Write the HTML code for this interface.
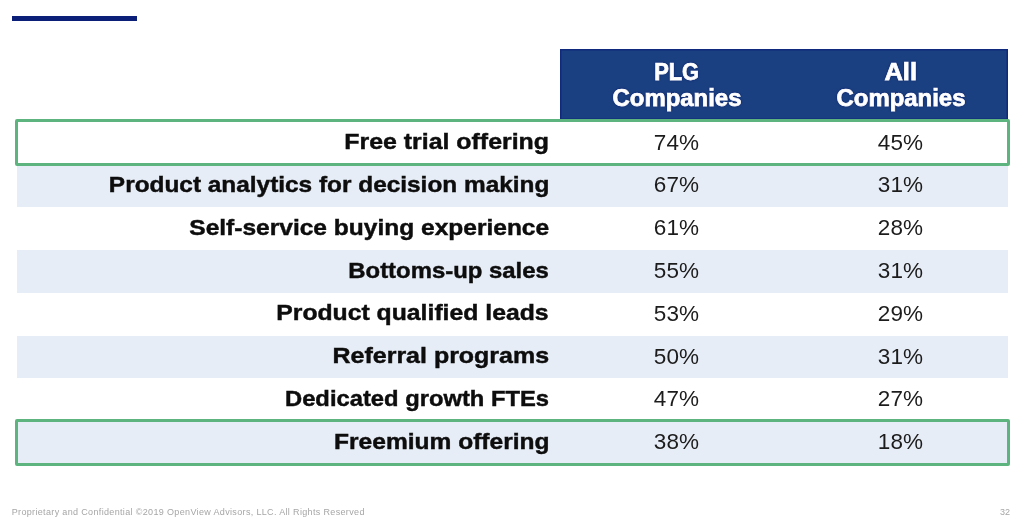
<!DOCTYPE html>
<html lang="en">
<head>
<meta charset="utf-8">
<title>PLG vs All Companies</title>
<style>
html,body{margin:0;padding:0;}
body{width:1024px;height:523px;position:relative;overflow:hidden;background:#fff;font-family:"Liberation Sans",sans-serif;}
.abs{position:absolute;}
#topline{left:12.2px;top:16.3px;width:125px;height:4.8px;background:#0b1f78;}
#head{left:560px;top:49.3px;width:448px;height:71px;background:#1b4081;box-shadow:inset 0 0 0 1.5px #0f2a7c;}
.hl{position:absolute;width:224px;text-align:center;color:#fff;font-weight:bold;font-size:23px;line-height:26.5px;-webkit-text-stroke:0.75px #fff;text-shadow:0 0 1.5px #081a6a,0 0 2.5px rgba(8,26,106,0.8);white-space:nowrap;}
.hl span{display:inline-block;transform-origin:center center;}
.row{position:absolute;left:16.5px;width:991.5px;height:42.8px;}
.stripe{background:#e7edf6;}
.lab{position:absolute;right:459px;top:-0.5px;height:42.8px;line-height:42.8px;font-weight:bold;font-size:22.5px;color:#0d0d0d;-webkit-text-stroke:0.45px #0d0d0d;white-space:nowrap;transform-origin:right center;}
.v{position:absolute;top:0;height:42.8px;line-height:42.8px;width:120px;text-align:center;font-size:22.5px;color:#1c1c1c;white-space:nowrap;letter-spacing:0.1px;}
.v1{left:600px;}
.v2{left:824px;}
.gbox{position:absolute;left:15px;width:995px;box-sizing:border-box;border:3.3px solid #5db47e;border-radius:2px;}
#foot{left:11.7px;top:505.7px;font-size:9px;line-height:12px;color:#a6a6a6;letter-spacing:0.345px;white-space:nowrap;}
#pg{left:1000px;top:505.7px;font-size:9px;line-height:12px;color:#a6a6a6;white-space:nowrap;}
</style>
</head>
<body>
<div id="topline" class="abs"></div>

<div id="head" class="abs"></div>
<div class="hl" style="left:564.5px;top:58.7px;"><span style="transform:scaleX(0.95)">PLG</span><br><span style="transform:scaleX(1.04)">Companies</span></div>
<div class="hl" style="left:788.5px;top:58.7px;"><span style="transform:scaleX(1.11)">All</span><br><span style="transform:scaleX(1.04)">Companies</span></div>

<div class="row" style="top:121.5px;"><div class="lab" style="transform:scaleX(1.1065)">Free trial offering</div><div class="v v1">74%</div><div class="v v2">45%</div></div>
<div class="row stripe" style="top:164.3px;"><div class="lab" style="transform:scaleX(1.084)">Product analytics for decision making</div><div class="v v1">67%</div><div class="v v2">31%</div></div>
<div class="row" style="top:207.1px;"><div class="lab" style="transform:scaleX(1.090)">Self-service buying experience</div><div class="v v1">61%</div><div class="v v2">28%</div></div>
<div class="row stripe" style="top:250.2px;"><div class="lab" style="transform:scaleX(1.062)">Bottoms-up sales</div><div class="v v1">55%</div><div class="v v2">31%</div></div>
<div class="row" style="top:292.7px;"><div class="lab" style="transform:scaleX(1.100)">Product qualified leads</div><div class="v v1">53%</div><div class="v v2">29%</div></div>
<div class="row stripe" style="top:335.5px;"><div class="lab" style="transform:scaleX(1.110)">Referral programs</div><div class="v v1">50%</div><div class="v v2">31%</div></div>
<div class="row" style="top:378.3px;"><div class="lab" style="transform:scaleX(1.056)">Dedicated growth FTEs</div><div class="v v1">47%</div><div class="v v2">27%</div></div>
<div class="row stripe" style="top:421.1px;"><div class="lab" style="transform:translateX(1px) scaleX(1.091)">Freemium offering</div><div class="v v1">38%</div><div class="v v2">18%</div></div>

<div class="gbox" style="top:119.3px;height:46.9px;"></div>
<div class="gbox" style="top:419.1px;height:46.8px;"></div>

<div id="foot" class="abs">Proprietary and Confidential ©2019 OpenView Advisors, LLC. All Rights Reserved</div>
<div id="pg" class="abs">32</div>
</body>
</html>
